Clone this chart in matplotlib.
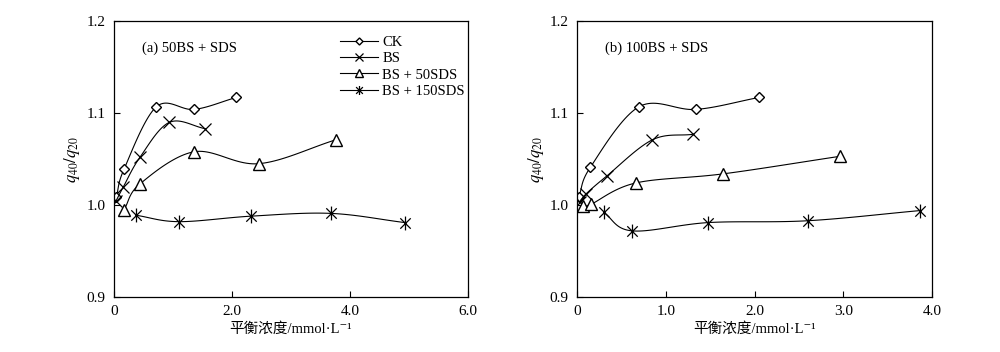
import numpy as np
import matplotlib
matplotlib.use("Agg")
import matplotlib.pyplot as plt
from matplotlib.path import Path

plt.rcParams["font.family"] = ["Liberation Serif", "Noto Sans CJK SC", "DejaVu Serif"]
plt.rcParams["mathtext.fontset"] = "stix"

TICK_FS = 11
TEXT_FS = 10.5

SERIES = ["CK", "BS", "BS + 50SDS", "BS + 150SDS"]

# panel (a) 50BS + SDS
a_ck_x = [0.04, 0.17, 0.72, 1.36, 2.07]
a_ck_y = [1.009, 1.039, 1.107, 1.104, 1.117]
a_bs_x = [0.03, 0.16, 0.44, 0.94, 1.55]
a_bs_y = [1.004, 1.020, 1.052, 1.090, 1.083]
a_s50_x = [0.17, 0.44, 1.36, 2.45, 3.76]
a_s50_y = [0.995, 1.023, 1.058, 1.045, 1.071]
a_s150_x = [0.37, 1.10, 2.33, 3.67, 4.93]
a_s150_y = [0.989, 0.982, 0.988, 0.991, 0.981]

# panel (b) 100BS + SDS
b_ck_x = [0.02, 0.15, 0.70, 1.34, 2.05]
b_ck_y = [1.009, 1.041, 1.107, 1.104, 1.117]
b_bs_x = [0.03, 0.10, 0.34, 0.85, 1.31]
b_bs_y = [1.003, 1.012, 1.032, 1.071, 1.077]
b_s50_x = [0.07, 0.16, 0.66, 1.65, 2.96]
b_s50_y = [0.999, 1.001, 1.024, 1.034, 1.053]
b_s150_x = [0.30, 0.62, 1.48, 2.60, 3.86]
b_s150_y = [0.992, 0.972, 0.981, 0.983, 0.994]

# asterisk: vertical bar plus a 45 degree cross
STAR = Path([(0, -1), (0, 1), (-0.75, -0.75), (0.75, 0.75), (-0.75, 0.75), (0.75, -0.75)],
            [Path.MOVETO, Path.LINETO] * 3)

MARKERS = {
    "CK": dict(marker="D", markersize=5.5),
    "BS": dict(marker="x", markersize=8, markeredgewidth=0.9),
    "BS + 50SDS": dict(marker="^", markersize=8),
    "BS + 150SDS": dict(marker=STAR, markersize=10, markeredgewidth=0.9),
}


def smooth(x, y, n=24):
    # Catmull-Rom curve through the points, like a smoothed spreadsheet line
    x = np.asarray(x, float)
    y = np.asarray(y, float)
    px = np.concatenate([[2 * x[0] - x[1]], x, [2 * x[-1] - x[-2]]])
    py = np.concatenate([[2 * y[0] - y[1]], y, [2 * y[-1] - y[-2]]])
    t = np.linspace(0, 1, n)
    xs, ys = [], []
    for i in range(1, len(px) - 2):
        for p, out in ((px, xs), (py, ys)):
            p0, p1, p2, p3 = p[i - 1], p[i], p[i + 1], p[i + 2]
            out.append(0.5 * (2 * p1 + (-p0 + p2) * t
                              + (2 * p0 - 5 * p1 + 4 * p2 - p3) * t ** 2
                              + (-p0 + 3 * p1 - 3 * p2 + p3) * t ** 3))
    return np.concatenate(xs), np.concatenate(ys)


def draw_panel(ax, data, title, xmax, xticks, xlabels, legend=False):
    for name, (xv, yv) in zip(SERIES, data):
        sx, sy = smooth(xv, yv)
        ax.plot(sx, sy, color="black", linewidth=0.8)
        ax.plot(xv, yv, linestyle="none", color="black",
                markerfacecolor="white", markeredgecolor="black", **MARKERS[name])
        if legend:
            ax.plot([], [], color="black", linewidth=0.8, markerfacecolor="white",
                    markeredgecolor="black", label=name, **MARKERS[name])
    ax.set_xlim(0, xmax)
    ax.set_ylim(0.9, 1.2)
    ax.set_xticks(xticks)
    ax.set_xticklabels(xlabels)
    ax.set_yticks([0.9, 1.0, 1.1, 1.2])
    ax.set_yticklabels(["0.9", "1.0", "1.1", "1.2"])
    ax.tick_params(direction="in", length=4, width=0.8, labelsize=TICK_FS, pad=6)
    for s in ax.spines.values():
        s.set_linewidth(0.9)
    ax.text(0.08, 0.90, title, transform=ax.transAxes, fontsize=TEXT_FS, va="center")
    ax.set_xlabel("平衡浓度/mmol·L⁻¹", fontsize=TEXT_FS, labelpad=3)
    ax.set_ylabel(r"$q_{\mathrm{40}}/q_{\mathrm{20}}$", fontsize=12, labelpad=3)
    if legend:
        ax.legend(loc="upper left", bbox_to_anchor=(0.61, 0.985), frameon=False,
                  fontsize=TEXT_FS, handlelength=2.6, handletextpad=0.3,
                  labelspacing=0.22, borderaxespad=0.3, markerscale=0.65)


fig = plt.figure(figsize=(10, 3.52), dpi=100)
ax_a = fig.add_axes([0.114, 0.156, 0.354, 0.784])
ax_b = fig.add_axes([0.577, 0.156, 0.355, 0.784])

draw_panel(ax_a, [(a_ck_x, a_ck_y), (a_bs_x, a_bs_y), (a_s50_x, a_s50_y), (a_s150_x, a_s150_y)],
           "(a) 50BS + SDS", 6, [0, 2, 4, 6], ["0", "2.0", "4.0", "6.0"], legend=True)
draw_panel(ax_b, [(b_ck_x, b_ck_y), (b_bs_x, b_bs_y), (b_s50_x, b_s50_y), (b_s150_x, b_s150_y)],
           "(b) 100BS + SDS", 4, [0, 1, 2, 3, 4], ["0", "1.0", "2.0", "3.0", "4.0"])

fig.savefig("out.png", dpi=100)
